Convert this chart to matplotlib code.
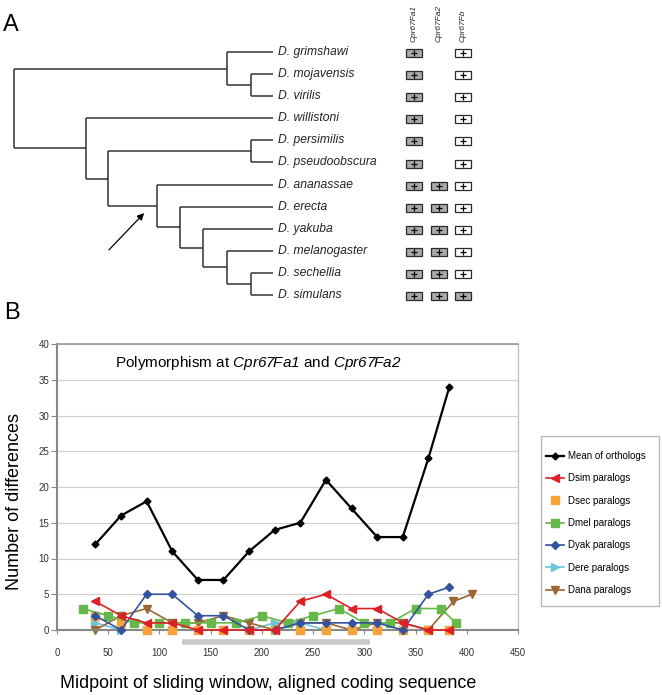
import matplotlib
matplotlib.use("Agg")
import matplotlib.pyplot as plt
from matplotlib.patches import Rectangle

plt.rcParams['font.family'] = ['Liberation Sans', 'DejaVu Sans']
# math text is only used for the italic gene names in the title
plt.rcParams['mathtext.fontset'] = 'custom'
plt.rcParams['mathtext.rm'] = 'Liberation Sans:italic'
plt.rcParams['mathtext.it'] = 'Liberation Sans:italic'

# ---- panel A: tree and gene presence ----
species = ["D. grimshawi", "D. mojavensis", "D. virilis", "D. willistoni",
           "D. persimilis", "D. pseudoobscura", "D. ananassae", "D. erecta",
           "D. yakuba", "D. melanogaster", "D. sechellia", "D. simulans"]

# internal node = (depth, child, child), tips are indexes into species
tree = (0.0,
        (0.822, 0, (0.915, 1, 2)),
        (0.278, 3,
         (0.363, (0.915, 4, 5),
          (0.552, 6,
           (0.641, 7,
            (0.730, 8,
             (0.822, 9, (0.915, 10, 11))))))))

genes = ["Cpr67Fa1", "Cpr67Fa2", "Cpr67Fb"]
# g = grey box, w = white box, - = absent
fa1_status = ["g", "g", "g", "g", "g", "g", "g", "g", "g", "g", "g", "g"]
fa2_status = ["-", "-", "-", "-", "-", "-", "g", "g", "g", "g", "g", "g"]
fb_status = ["w", "w", "w", "w", "w", "w", "w", "w", "w", "w", "w", "g"]

# ---- panel B: sliding window polymorphism ----
win_mid = [37.5, 62.5, 87.5, 112.5, 137.5, 162.5, 187.5, 212.5, 237.5,
           262.5, 287.5, 312.5, 337.5, 362.5, 383]
mean_orth = [12, 16, 18, 11, 7, 7, 11, 14, 15, 21, 17, 13, 13, 24, 34]
dsim = [4, 2, 1, 1, 0, 0, 0, 0, 4, 5, 3, 3, 1, 0, 0]
dsec = [2, 1, 0, 0, 0, 0, 0, 0, 0, 0, 0, 0, 0, 0, 0]
dmel_x = [25, 50, 75, 100, 125, 150, 175, 200, 225, 250, 275, 300, 325,
          350, 375, 389]
dmel = [3, 2, 1, 1, 1, 1, 1, 2, 1, 2, 3, 1, 1, 3, 3, 1]
dyak = [2, 0, 5, 5, 2, 2, 0, 0, 1, 1, 1, 1, 0, 5, 6]
dere_x = [37.5, 62.5, 87.5, 112.5, 137.5, 162.5, 187.5, 212.5, 237.5,
          262.5, 287.5, 312.5, 337.5, 362.5]
dere = [1, 0, 0, 0, 0, 0, 0, 1, 1, 0, 0, 0, 0, 0]
dana_x = [37.5, 62.5, 87.5, 112.5, 137.5, 162.5, 187.5, 212.5, 237.5,
          262.5, 287.5, 312.5, 337.5, 362.5, 387, 405]
dana = [0, 2, 3, 1, 1, 2, 1, 0, 1, 1, 0, 1, 1, 0, 4, 5]
region_start, region_end = 122, 306

W, H = 662, 695
fig = plt.figure(figsize=(W / 100, H / 100), dpi=100)

# tree axes in pixel-like units
TOP_H = 310
tip_y0, tip_step = 52, 22.09
x0, x_unit = 14, 259
ax_a = fig.add_axes([0, 1 - TOP_H / H, 1, TOP_H / H])
ax_a.set_xlim(-x0 / x_unit, (W - x0) / x_unit)
ax_a.set_ylim((TOP_H - tip_y0) / tip_step, -tip_y0 / tip_step)
ax_a.axis('off')

line_kw = dict(color='#333333', lw=1.1, solid_capstyle='butt')


def draw_node(node):
    if isinstance(node, int):
        return 1.0, node
    depth, left, right = node
    xl, yl = draw_node(left)
    xr, yr = draw_node(right)
    ax_a.plot([depth, depth], [yl, yr], **line_kw)
    ax_a.plot([depth, xl], [yl, yl], **line_kw)
    ax_a.plot([depth, xr], [yr, yr], **line_kw)
    return depth, (yl + yr) / 2


draw_node(tree)
for i, name in enumerate(species):
    ax_a.text(1.02, i, name, fontsize=8.7, style='italic', va='center',
              ha='left', color='#222222')

ax_a.annotate("", xy=(0.51, 7.2), xytext=(0.359, 9.05),
              arrowprops=dict(arrowstyle='-|>', color='black', lw=0.9,
                              mutation_scale=10))

# gene presence columns
ax_g = fig.add_axes([402 / W, 1 - TOP_H / H, 73.5 / W, TOP_H / H])
ax_g.set_xlim(-0.5, 2.5)
ax_g.set_ylim((TOP_H - tip_y0) / tip_step, -tip_y0 / tip_step)
ax_g.axis('off')
fills = {"g": "#a9a9a9", "w": "white"}
for c, (gene, status) in enumerate(zip(genes, [fa1_status, fa2_status, fb_status])):
    ax_g.text(c, -0.45, gene, rotation=90, fontsize=6, style='italic',
              ha='center', va='bottom', color='#222222')
    for i, s in enumerate(status):
        if s == "-":
            continue
        ax_g.add_patch(Rectangle((c - 0.33, i + 0.05 - 0.18), 0.66, 0.36,
                                 facecolor=fills[s], edgecolor='#2a2a2a', lw=0.9))
        ax_g.plot(c, i + 0.05, marker='+', ms=5, mew=0.9, color='black')

fig.text(3 / W, 1 - 25 / H, "A", fontsize=17, ha='left', va='center')
fig.text(4 / W, 1 - 313 / H, "B", fontsize=17, ha='left', va='center')

# ---- panel B axes ----
ax = fig.add_axes([57 / W, (H - 630) / H, (518 - 57) / W, (630 - 344) / H])
ax.set_xlim(0, 450)
ax.set_ylim(0, 40)
ax.set_xticks(range(0, 451, 50))
ax.set_yticks(range(0, 41, 5))
ax.yaxis.grid(True, color='#cfcfcf', lw=0.8)
ax.set_axisbelow(True)
ax.tick_params(axis='x', length=3, width=0.8, color='#888888', pad=10,
               labelsize=7, labelcolor='#333333')
ax.tick_params(axis='y', length=4.5, width=0.8, color='#888888', pad=1,
               labelsize=7, labelcolor='#333333')
ax.spines['left'].set(color='#888888', lw=1.5)
ax.spines['bottom'].set(color='#888888', lw=1.5)
ax.spines['top'].set(color='#9a9a9a', lw=1.2)
ax.spines['right'].set(color='#c0c0c0', lw=0.9)

ax.plot(win_mid, mean_orth, color='black', lw=1.6, marker='D', ms=3.5,
        label='Mean of orthologs', clip_on=False, zorder=5)
ax.plot(win_mid, dsim, color='#dd2026', lw=1.2, marker='<', ms=6,
        label='Dsim paralogs', clip_on=False, zorder=4)
ax.plot(win_mid, dsec, color='#f7a23a', ls='none', marker='s', ms=5.5,
        label='Dsec paralogs', clip_on=False, zorder=3)
ax.plot(dmel_x, dmel, color='#66b84a', lw=1.2, marker='s', ms=5.5,
        label='Dmel paralogs', clip_on=False, zorder=3)
ax.plot(win_mid, dyak, color='#33539e', lw=1.2, marker='D', ms=4,
        label='Dyak paralogs', clip_on=False, zorder=3)
ax.plot(dere_x, dere, color='#6cc6d8', lw=1.2, marker='>', ms=6,
        label='Dere paralogs', clip_on=False, zorder=2)
ax.plot(dana_x, dana, color='#9a6634', lw=1.2, marker='v', ms=6,
        label='Dana paralogs', clip_on=False, zorder=2)

ax.hlines(-0.042, region_start, region_end, transform=ax.get_xaxis_transform(),
          color='#c8c8c8', lw=4, clip_on=False)

ax.text(0.436, 0.934, r"Polymorphism at $Cpr67Fa1$ and $Cpr67Fa2$",
        transform=ax.transAxes, ha='center', va='center', fontsize=11)

fig.text(268 / W, 1 - 683 / H, "Midpoint of sliding window, aligned coding sequence",
         ha='center', va='center', fontsize=12.9)
fig.text(15 / W, 1 - 501 / H, "Number of differences", rotation=90,
         ha='center', va='center', fontsize=13)

# legend with a plain box
fig.patches.append(Rectangle((541 / W, 1 - 606 / H), 118 / W, 170 / H,
                             transform=fig.transFigure, facecolor='white',
                             edgecolor='#b5b5b5', lw=0.9))
handles, labels = ax.get_legend_handles_labels()
fig.legend(handles, labels, loc='upper left',
           bbox_to_anchor=(546 / W, 1 - 451 / H), frameon=False, fontsize=7,
           borderpad=0, handlelength=1.9, handletextpad=0.4, labelspacing=1.27,
           borderaxespad=0)

fig.savefig("out.png", dpi=100)
